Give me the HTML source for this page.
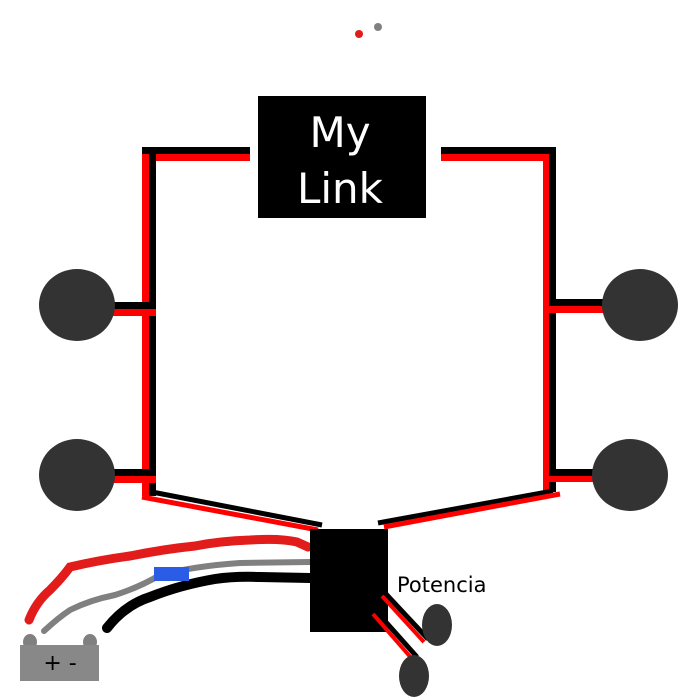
<!DOCTYPE html>
<html><head><style>body{margin:0;background:#fff}svg{display:block}</style></head><body>
<svg width="700" height="700" viewBox="0 0 700 700" xmlns="http://www.w3.org/2000/svg">
<rect width="700" height="700" fill="#fff"/>
<circle cx="359" cy="34" r="4" fill="#e21b1b"/>
<circle cx="378" cy="27" r="4" fill="#808080"/>
<!-- left frame -->
<rect x="142" y="147" width="108" height="7" fill="#000"/>
<rect x="142" y="154" width="108" height="7" fill="#f00"/>
<rect x="149" y="154" width="7" height="342" fill="#000"/>
<rect x="142" y="161" width="7" height="335" fill="#f00"/>
<rect x="110" y="302" width="46" height="7" fill="#000"/>
<rect x="110" y="309" width="46" height="7" fill="#f00"/>
<rect x="110" y="469" width="46" height="7" fill="#000"/>
<rect x="110" y="476" width="46" height="7" fill="#f00"/>
<line x1="152" y1="492" x2="322" y2="525" stroke="#000" stroke-width="5"/>
<line x1="142" y1="497" x2="318" y2="530" stroke="#f00" stroke-width="5"/>
<!-- right frame -->
<rect x="441" y="147" width="115" height="7" fill="#000"/>
<rect x="441" y="154" width="108" height="7" fill="#f00"/>
<rect x="549" y="147" width="7" height="345" fill="#000"/>
<rect x="543" y="154" width="6" height="337" fill="#f00"/>
<rect x="549" y="299" width="60" height="7" fill="#000"/>
<rect x="549" y="306" width="60" height="7" fill="#f00"/>
<rect x="549" y="469" width="50" height="7" fill="#000"/>
<rect x="549" y="476" width="50" height="6" fill="#f00"/>
<line x1="553" y1="491" x2="378" y2="523" stroke="#000" stroke-width="5"/>
<line x1="560" y1="494" x2="384" y2="527" stroke="#f00" stroke-width="5"/>
<!-- speakers -->
<ellipse cx="77" cy="305" rx="38" ry="36" fill="#333"/>
<ellipse cx="77" cy="475" rx="38" ry="36" fill="#333"/>
<ellipse cx="640" cy="305" rx="38" ry="36" fill="#333"/>
<ellipse cx="630" cy="475" rx="38" ry="36" fill="#333"/>
<!-- MyLink -->
<rect x="258" y="96" width="168" height="122" fill="#000"/>
<text x="340" y="147" text-anchor="middle" font-family="DejaVu Sans, sans-serif" font-size="42" fill="#fff">My</text>
<text x="340" y="203" text-anchor="middle" font-family="DejaVu Sans, sans-serif" font-size="42" fill="#fff">Link</text>
<!-- wires -->
<path d="M29,620 Q36,602 50,590 Q62,578 70,567 Q100,560 130,556 Q165,549 195,546 Q220,541 250,540 Q280,538 297,542 L308,547" stroke="#e21b1b" stroke-width="9" fill="none" stroke-linecap="round"/>
<path d="M44,631 Q58,618 70,610 Q90,600 115,595 Q140,587 160,575 Q195,566 240,563 L310,562" stroke="#808080" stroke-width="6" fill="none" stroke-linecap="round"/>
<path d="M107,628 Q125,605 150,597 Q180,585 215,579 Q235,576 260,577 L310,578" stroke="#000" stroke-width="10" fill="none" stroke-linecap="round"/>
<rect x="154" y="567" width="35" height="14" fill="#2b5ce6"/>
<!-- battery -->
<ellipse cx="30" cy="642" rx="7" ry="8" fill="#808080"/>
<ellipse cx="90" cy="642" rx="7" ry="8" fill="#808080"/>
<rect x="20" y="645" width="79" height="36" fill="#888"/>
<text x="60" y="670" text-anchor="middle" font-family="DejaVu Sans, sans-serif" font-size="22" fill="#000">+ -</text>
<!-- amp -->
<rect x="310" y="529" width="78" height="103" fill="#000"/>
<text x="397" y="592" font-family="DejaVu Sans, sans-serif" font-size="21" fill="#000">Potencia</text>
<line x1="385" y1="593" x2="428" y2="639" stroke="#000" stroke-width="5"/>
<line x1="382" y1="596" x2="424" y2="642" stroke="#f00" stroke-width="4"/>
<line x1="376" y1="611" x2="417" y2="657" stroke="#000" stroke-width="5"/>
<line x1="373" y1="614" x2="413" y2="660" stroke="#f00" stroke-width="4"/>
<ellipse cx="437" cy="625" rx="15" ry="21" fill="#333"/>
<ellipse cx="414" cy="676" rx="15" ry="21" fill="#333"/>
</svg>
</body></html>
